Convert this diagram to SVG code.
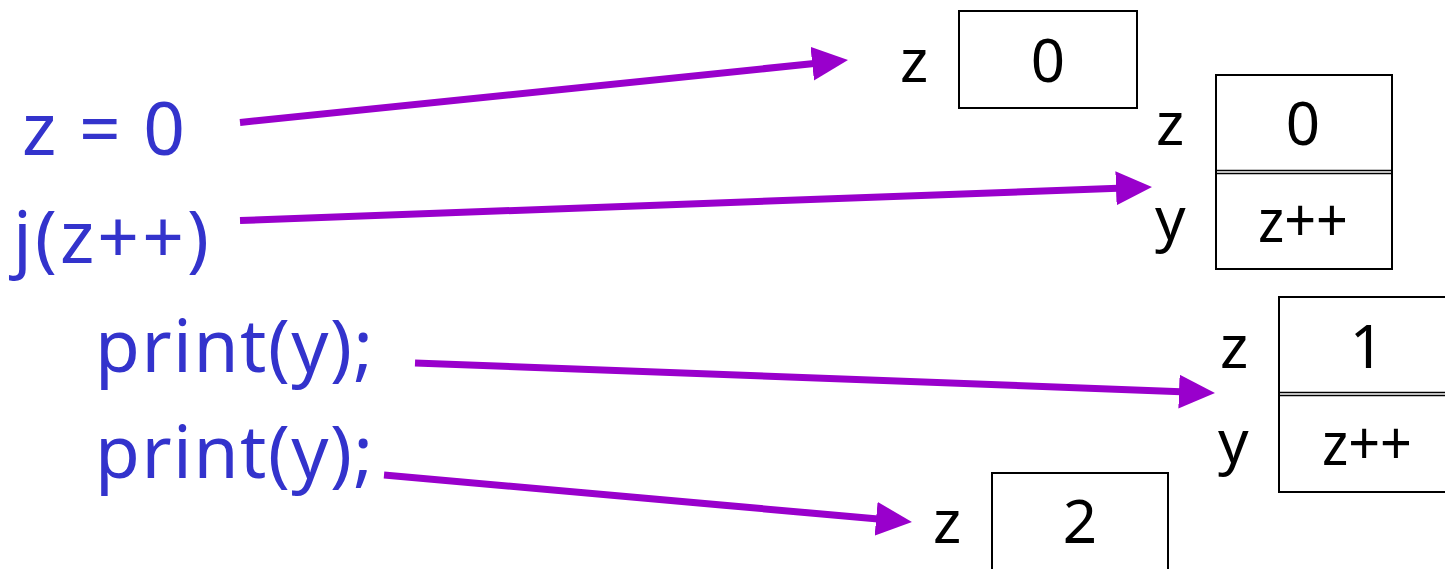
<svg xmlns="http://www.w3.org/2000/svg" width="1445" height="569" viewBox="0 0 1445 569">
<style>
.code{font-family:"Noto Sans","DejaVu Sans",sans-serif;font-size:73px;fill:#3333CC}
.lbl{font-family:"Noto Sans","DejaVu Sans",sans-serif;font-size:60px;fill:#000}
.val{font-family:"Noto Sans","DejaVu Sans",sans-serif;font-size:60px;fill:#000;text-anchor:middle}
.box{fill:#fff;stroke:#000;stroke-width:2}
.sep{stroke:#000;stroke-width:1.6}
.arr{stroke:#9900CC;stroke-width:7;fill:none;marker-end:url(#ah)}
</style>
<defs>
<marker id="ah" markerUnits="userSpaceOnUse" markerWidth="36" markerHeight="34" refX="2" refY="17" orient="auto" viewBox="0 0 36 34">
<path d="M0,0 L36,17 L0,34 z" fill="#9900CC"/>
</marker>
</defs>
<rect width="1445" height="569" fill="#fff"/>
<g id="code">
<text class="code" x="22" y="155" textLength="163">z = 0</text>
<text class="code" x="13" y="263" textLength="196">j(z++)</text>
<text class="code" x="95" y="372" textLength="278">print(y);</text>
<text class="code" x="95" y="478" textLength="278">print(y);</text>
</g>
<g id="frame1">
<text class="lbl" x="900" y="82">z</text>
<rect class="box" x="959" y="11" width="178" height="97"/>
<text class="val" x="1048" y="82">0</text>
</g>
<g id="frame2">
<rect class="box" x="1216" y="75" width="176" height="194"/>
<line class="sep" x1="1216" y1="170.5" x2="1392" y2="170.5"/>
<line class="sep" x1="1216" y1="173.5" x2="1392" y2="173.5"/>
<text class="lbl" x="1156" y="145">z</text>
<text class="val" x="1303" y="145">0</text>
<text class="lbl" x="1155" y="240">y</text>
<text class="val" x="1303" y="242" font-size="56" textLength="90" lengthAdjust="spacingAndGlyphs">z++</text>
</g>
<g id="frame3">
<rect class="box" x="1279" y="297" width="176" height="195"/>
<line class="sep" x1="1279" y1="392.5" x2="1455" y2="392.5"/>
<line class="sep" x1="1279" y1="395.5" x2="1455" y2="395.5"/>
<text class="lbl" x="1220" y="368">z</text>
<text class="val" x="1367" y="368">1</text>
<text class="lbl" x="1218" y="463">y</text>
<text class="val" x="1367" y="465" font-size="56" textLength="90" lengthAdjust="spacingAndGlyphs">z++</text>
</g>
<g id="frame4">
<text class="lbl" x="933" y="543">z</text>
<rect class="box" x="992" y="473" width="176" height="110"/>
<text class="val" x="1080" y="543">2</text>
</g>
<g id="connectors">
<line class="arr" x1="240" y1="122.5" x2="814.2" y2="63.5"/>
<line class="arr" x1="240" y1="220.5" x2="1118" y2="188.2"/>
<line class="arr" x1="415" y1="363" x2="1181" y2="391.7"/>
<line class="arr" x1="384" y1="475" x2="878.1" y2="519"/>
</g>
</svg>
